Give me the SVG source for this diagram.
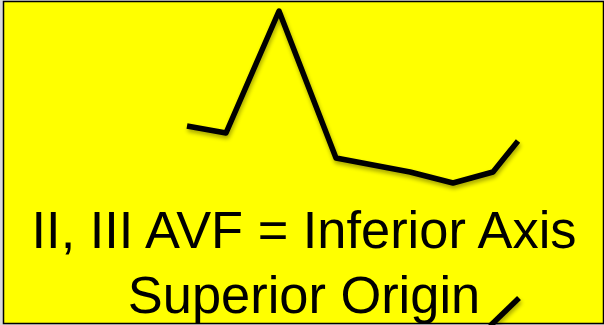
<svg xmlns="http://www.w3.org/2000/svg" width="604" height="325" viewBox="0 0 604 325">
  <defs>
    <filter id="sh" x="-10%" y="-10%" width="120%" height="130%">
      <feGaussianBlur in="SourceAlpha" stdDeviation="2"/>
      <feOffset dx="1" dy="3" result="b"/>
      <feComponentTransfer><feFuncA type="linear" slope="0.35"/></feComponentTransfer>
      <feMerge><feMergeNode/><feMergeNode in="SourceGraphic"/></feMerge>
    </filter>
  </defs>
  <style>
    .t { font-family: "Liberation Sans", Arial, sans-serif; font-size: 52.4px; fill: #000; text-anchor: middle; }
    .w { fill: none; stroke: #000; stroke-width: 5.5; stroke-linejoin: round; }
  </style>
  <rect x="0" y="0" width="604" height="325" fill="#d9d9d9"/>
  <rect x="3.5" y="1.5" width="600" height="322" fill="#ffff00" stroke="#000" stroke-width="1.5"/>
  <g id="waveform" filter="url(#sh)">
    <polyline class="w" points="187,126 226,133 279,11 336,158 410,172 453,183 493,172 518,141"/>
    <line class="w" x1="519" y1="298" x2="490" y2="326"/>
  </g>
  <g id="label">
    <text class="t" x="304" y="248">II, III AVF = Inferior Axis</text>
    <text class="t" x="304" y="313">Superior Origin</text>
  </g>
</svg>
